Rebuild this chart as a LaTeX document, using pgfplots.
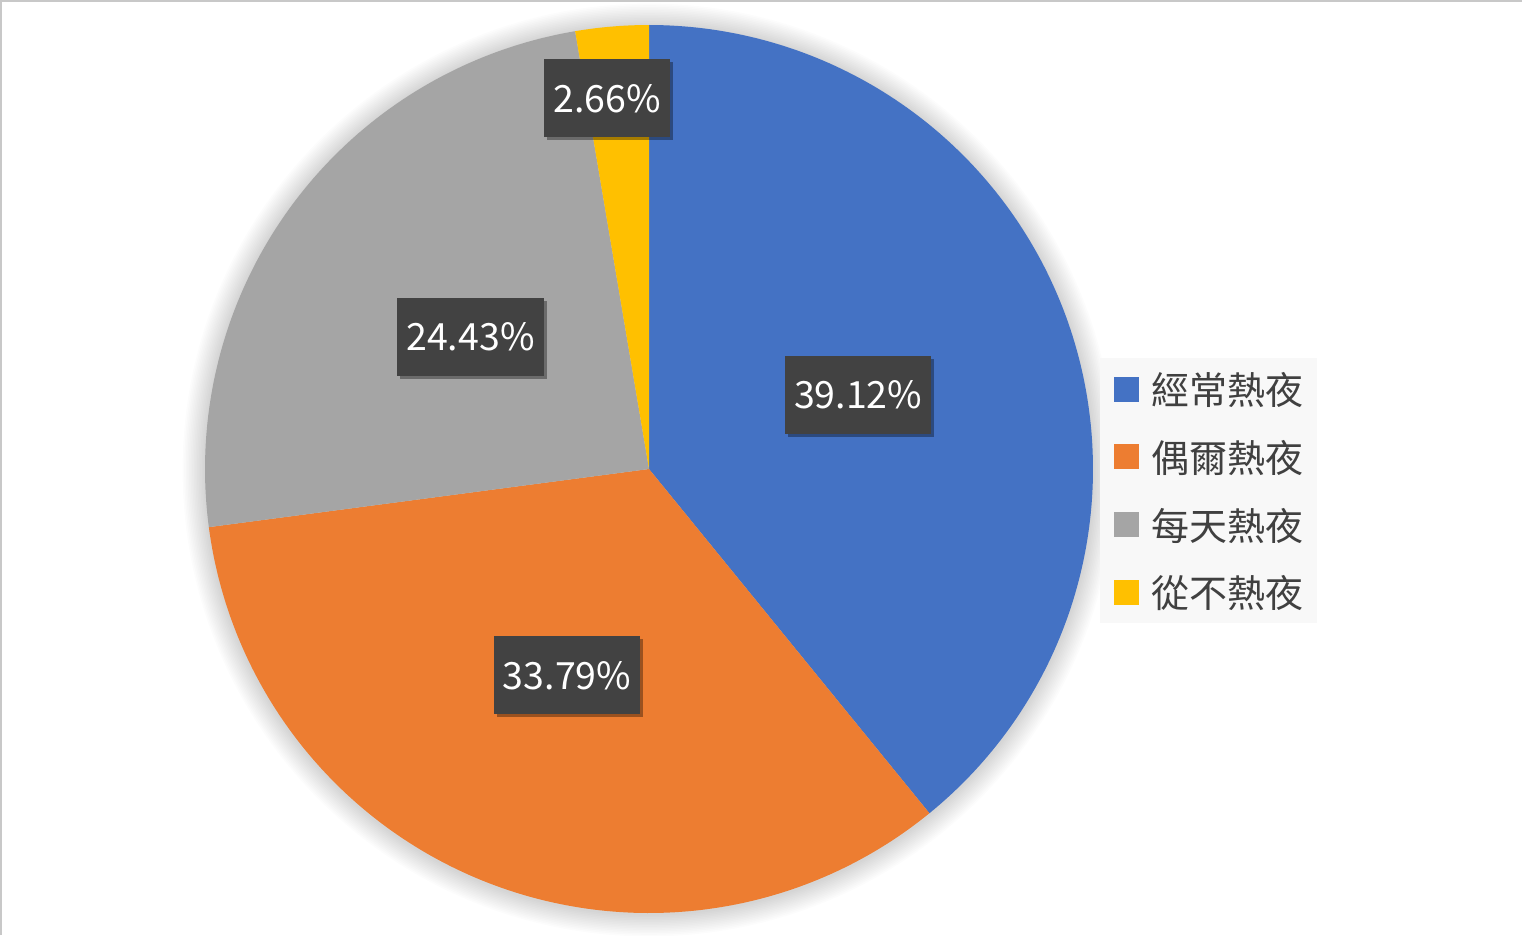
\documentclass[border=0pt]{standalone}
\usepackage{fontspec}
\setmainfont{Noto Sans CJK TC}
\usepackage{pgfplots}
\usepackage{pgfplotstable}
\pgfplotsset{compat=1.18}
\usetikzlibrary{shadows}
\definecolor{pieblue}{HTML}{4472C4}
\definecolor{pieorange}{HTML}{ED7D31}
\definecolor{piegray}{HTML}{A5A5A5}
\definecolor{pieyellow}{HTML}{FFC000}
\definecolor{lblbg}{HTML}{424242}
\definecolor{legtext}{HTML}{404040}
\definecolor{legbg}{HTML}{F8F8F8}
\definecolor{framecol}{HTML}{C8C8C8}

\pgfplotstableread{
pct
39.12
33.79
24.43
2.66
}\piedata

\pgfplotstablegetelem{0}{pct}\of\piedata \let\pA\pgfplotsretval
\pgfplotstablegetelem{1}{pct}\of\piedata \let\pB\pgfplotsretval
\pgfplotstablegetelem{2}{pct}\of\piedata \let\pC\pgfplotsretval
\pgfplotstablegetelem{3}{pct}\of\piedata \let\pD\pgfplotsretval

\pgfmathsetmacro\eA{3.6*\pA}
\pgfmathsetmacro\eB{\eA+3.6*\pB}
\pgfmathsetmacro\eC{\eB+3.6*\pC}
\def\eD{360}
\pgfmathsetmacro\mA{\eA/2}
\pgfmathsetmacro\mB{(\eA+\eB)/2}
\pgfmathsetmacro\mC{(\eB+\eC)/2}
\pgfmathsetmacro\mD{(\eC+360)/2}
\pgfmathsetmacro\xA{649+222*sin(\mA)}
\pgfmathsetmacro\yA{469-222*cos(\mA)}
\pgfmathsetmacro\xB{649+222*sin(\mB)}
\pgfmathsetmacro\yB{469-222*cos(\mB)}
\pgfmathsetmacro\xC{649+222*sin(\mC)}
\pgfmathsetmacro\yC{469-222*cos(\mC)}
\pgfmathsetmacro\xD{649+372*sin(\mD)-11}
\pgfmathsetmacro\yD{469-372*cos(\mD)}

\tikzset{lbl/.style={fill=lblbg, text=white, inner xsep=9bp, minimum height=78bp,
  font=\fontsize{37.5bp}{40bp}\selectfont,
  drop shadow={shadow xshift=3bp, shadow yshift=-3bp, opacity=0.35, fill=black}}}

\begin{document}
\begin{tikzpicture}
\begin{axis}[
  scale only axis, width=1522bp, height=935bp,
  xmin=0, xmax=1522, ymin=0, ymax=935, y dir=reverse,
  hide axis, clip=false,
  legend cell align=left,
  legend image code/.code={\path[#1,draw=none] (0bp,-12.5bp) rectangle (25bp,12.5bp);},
  legend style={at={(axis cs:1100,358)}, anchor=north west, fill=legbg, draw=none,
    font=\fontsize{38bp}{38bp}\selectfont, text=legtext,
    inner xsep=14bp, inner ysep=14bp, row sep=34.2bp,
    nodes={inner sep=0pt},
    /tikz/every odd column/.append style={column sep=12bp}},
]
% soft shadow around the pie
\pgfplotsinvokeforeach{1,...,14}{
  \fill[black, opacity=0.011] (axis cs:649,470) circle[radius={(444+1.6*#1)*1bp}];
}
\addplot[fill=pieblue, draw=none, domain=0:\eA, samples=160, variable=\t]
  ({649+444*sin(\t)}, {469-444*cos(\t)}) -- (axis cs:649,469) -- cycle;
\addlegendentry{經常熱夜}
\addplot[fill=pieorange, draw=none, domain=\eA:\eB, samples=140, variable=\t]
  ({649+444*sin(\t)}, {469-444*cos(\t)}) -- (axis cs:649,469) -- cycle;
\addlegendentry{偶爾熱夜}
\addplot[fill=piegray, draw=none, domain=\eB:\eC, samples=110, variable=\t]
  ({649+444*sin(\t)}, {469-444*cos(\t)}) -- (axis cs:649,469) -- cycle;
\addlegendentry{每天熱夜}
\addplot[fill=pieyellow, draw=none, domain=\eC:\eD, samples=20, variable=\t]
  ({649+444*sin(\t)}, {469-444*cos(\t)}) -- (axis cs:649,469) -- cycle;
\addlegendentry{從不熱夜}

\node[lbl] at (axis cs:\xA,\yA) {\pA\%};
\node[lbl] at (axis cs:\xB,\yB) {\pB\%};
\node[lbl] at (axis cs:\xC,\yC) {\pC\%};
\node[lbl] at (axis cs:\xD,\yD) {\pD\%};

\draw[framecol, line width=2bp] (axis cs:1,935) -- (axis cs:1,1) -- (axis cs:1522,1);
\end{axis}
\pgfresetboundingbox
\path (current axis.south west) rectangle (current axis.north east);
\end{tikzpicture}
\end{document}
